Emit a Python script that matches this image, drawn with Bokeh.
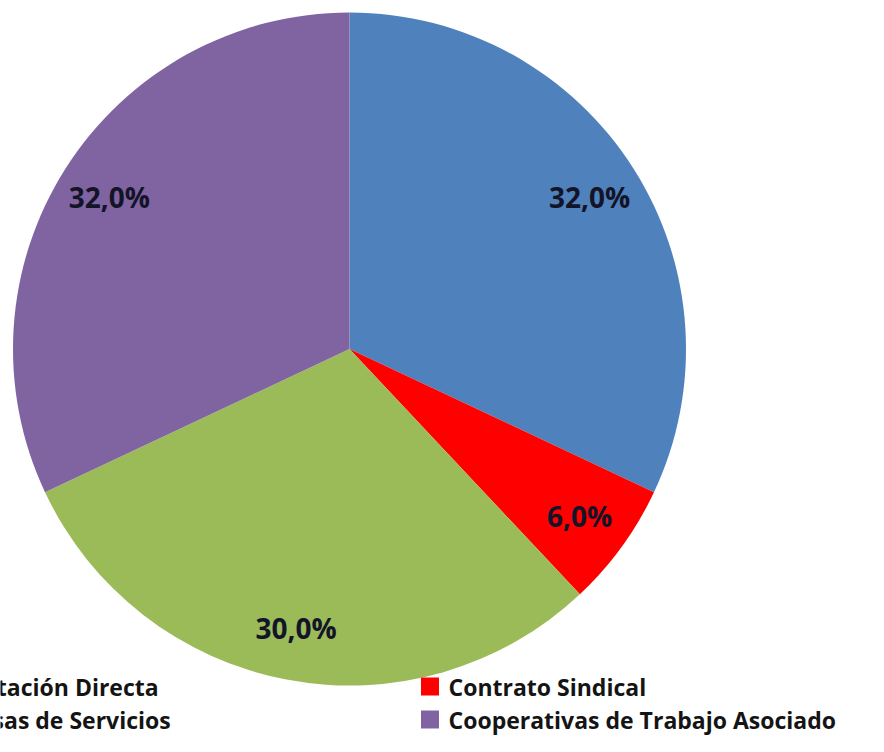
import math
from bokeh.plotting import figure
from bokeh.models import Range1d, ColumnDataSource
from bokeh.core.properties import value
from bokeh.embed import file_html
from bokeh.resources import INLINE

# ---- data ----
# slice order clockwise from 12 o'clock
slice_names = ["Contratación Directa", "Contrato Sindical", "Empresas de Servicios",
               "Cooperativas de Trabajo Asociado"]
slice_values = [32.0, 6.0, 30.0, 32.0]
slice_colors = ["#4F81BD", "#FF0000", "#9BBB59", "#8064A2"]
slice_labels = ["32,0%", "6,0%", "30,0%", "32,0%"]
legend_order = ["Contratación Directa", "Contrato Sindical", "Empresas de Servicios",
                "Cooperativas de Trabajo Asociado"]

# ---- layout (pixel coordinates of the picture, y measured downward) ----
REF_H = 752
W, H = 868, 736
cx, cy_img, R = 349.0, 348.5, 336.5
FONT = "Open Sans"


def Y(y_img):
    return REF_H - y_img


p = figure(width=W, height=H, output_backend="svg", toolbar_location=None,
           x_axis_type=None, y_axis_type=None,
           x_range=Range1d(0, W), y_range=Range1d(REF_H - H, REF_H),
           min_border=0)
p.outline_line_color = None
p.background_fill_color = "white"
p.border_fill_color = "white"

total = sum(slice_values)
starts, ends, lx, ly = [], [], [], []
cum = 0.0
for v in slice_values:
    a0 = math.pi / 2 - 2 * math.pi * cum / total
    cum += v
    a1 = math.pi / 2 - 2 * math.pi * cum / total
    starts.append(a0)
    ends.append(a1)
    mid = (a0 + a1) / 2
    lx.append(cx + 0.845 * R * math.cos(mid))
    ly.append(Y(cy_img) + 0.845 * R * math.sin(mid))

src = ColumnDataSource(dict(start=starts, end=ends, color=slice_colors,
                            lx=lx, ly=ly, label=slice_labels))
p.wedge(x=cx, y=Y(cy_img), radius=R, start_angle="start", end_angle="end",
        direction="clock", fill_color="color", line_color=None, source=src)
p.text(x="lx", y="ly", text="label", source=src, text_font=value(FONT),
       text_font_style="bold", text_font_size="28px", text_color="#141428",
       text_align="center", text_baseline="middle")

# ---- legend (two columns, two rows) ----
leg_text_x = [-82, 448, -82, 448]
leg_row_y = [686, 686, 719, 719]
leg_colors = [slice_colors[slice_names.index(n)] for n in legend_order]
lsrc = ColumnDataSource(dict(
    mx=[x - 18.5 for x in leg_text_x],
    my=[Y(y) for y in leg_row_y],
    tx=leg_text_x,
    ty=[Y(y) for y in leg_row_y],
    name=legend_order, color=leg_colors))
p.rect(x="mx", y="my", width=18, height=18, fill_color="color", line_color=None,
       source=lsrc)
p.text(x="tx", y="ty", text="name", source=lsrc, text_font=value(FONT),
       text_font_style="bold", text_font_size="23px", text_color="#141414",
       text_align="left", text_baseline="middle")

open("out.html", "w").write(file_html(p, INLINE))
